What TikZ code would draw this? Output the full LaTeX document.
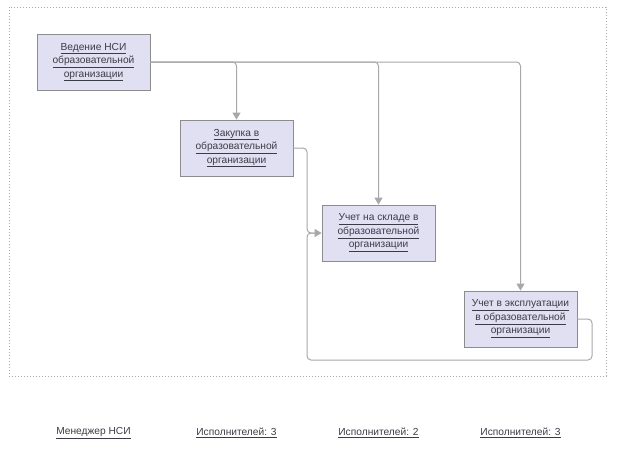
\documentclass[tikz,border=0pt]{standalone}
\usepackage{fontspec}
\setmainfont{Liberation Sans}
\usetikzlibrary{arrows.meta}
\definecolor{boxfill}{HTML}{E0E0F2}
\definecolor{boxline}{HTML}{8C8C8C}
\definecolor{conncol}{HTML}{A8A8A8}
\definecolor{txt}{HTML}{3C3C48}
\newcommand{\ul}[1]{\underline{#1}}
\tikzset{
  x=1pt,y=-1pt,
  box/.style={draw=boxline,fill=boxfill,line width=0.8pt,minimum width=113pt,minimum height=56pt,
    inner sep=1pt,align=center,text=txt,font=\fontsize{10.2}{13.5}\selectfont},
  conn/.style={draw=conncol,line width=1pt,rounded corners=4pt,-{Triangle[width=8pt,length=7pt]}},
  connplain/.style={draw=conncol,line width=1pt,rounded corners=4pt},
  foot/.style={text=txt,font=\fontsize{10.2}{12}\selectfont,inner sep=0pt},
}
\begin{document}
\begin{tikzpicture}
\useasboundingbox (0,0) rectangle (617,464);
\draw[conncol,line width=1pt,dotted] (9,7) rectangle (606,376);
\node[box] (b1) at (93.5,62) {\ul{Ведение НСИ}\\\ul{образовательной}\\\ul{организации}};
\node[box] (b2) at (236.5,148) {\ul{Закупка в}\\\ul{образовательной}\\\ul{организации}};
\node[box] (b3) at (378.5,233) {\ul{Учет на складе в}\\\ul{образовательной}\\\ul{организации}};
\node[box] (b4) at (520.5,319) {\ul{Учет в эксплуатации}\\\ul{в образовательной}\\\ul{организации}};
\coordinate (lr) at (592,360);
\coordinate (ll) at (307,360);
\draw[conn] (b1.east) -| (b2.north);
\draw[conn] (b1.east) -| (b3.north);
\draw[conn] (b1.east) -| (b4.north);
\draw[conn] (b2.east) -| (ll |- b3.west) -- (b3.west);
\draw[connplain] (b4.east) -| (lr) -- (ll) |- ([xshift=-6pt]b3.west);
\node[foot] (l1) at (93.5,433) {\ul{Менеджер НСИ}};
\node[foot] (l2) at (236.5,433) {\ul{Исполнителей: 3}};
\node[foot] (l3) at (378.5,433) {\ul{Исполнителей: 2}};
\node[foot] (l4) at (520.5,433) {\ul{Исполнителей: 3}};
\end{tikzpicture}
\end{document}
